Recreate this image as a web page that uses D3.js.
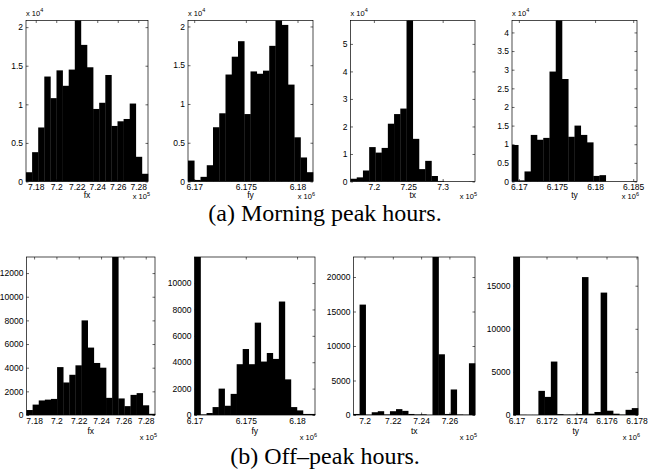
<!DOCTYPE html>
<html>
<head>
<meta charset="utf-8">
<script src="https://cdn.jsdelivr.net/npm/d3@7"></script>
<style>
body{margin:0;background:#fff}
svg text{font-family:"Liberation Sans",Arial,Helvetica,sans-serif}
</style>
</head>
<body>
<svg id="chart" width="649" height="474"></svg>
<script>
// bin counts left to right

// (a) morning peak
const morningFx = [1200, 3800, 7000, 13600, 10800, 14400, 12400, 14500, 20860, 17700,
                   14800, 9400, 10200, 13800, 7200, 7800, 8100, 10100, 3200, 1000];
const morningFy = [2700, 200, 600, 2100, 7000, 8800, 13800, 16100, 18100, 8700,
                   14200, 13900, 14300, 17500, 20770, 20200, 12500, 5700, 3100, 1200];
const morningTx = [1000, 1500, 4000, 12500, 10500, 12200, 21000, 24500, 26500, 58500,
                   15500, 4500, 7500, 2000, 200, 0, 0, 0, 0, 50];
const morningTy = [9800, 300, 2700, 12500, 11200, 11700, 29500, 43200, 27500, 12000,
                   15000, 12500, 10500, 1500, 1700, 0, 0, 0, 0, 50];

// (b) off-peak
const offFx = [420, 880, 1230, 1300, 1360, 4050, 2750, 3400, 4200, 8000, 5700,
               4400, 4000, 1450, 13360, 1400, 750, 1700, 1850, 820, 100];
const offFy = [11975, 40, 150, 600, 2000, 700, 1600, 3850, 5000, 3850,
               7000, 4050, 4700, 4250, 8600, 2700, 600, 350, 80, 80];
const offTx = [150, 16000, 50, 400, 550, 80, 550, 850, 600, 150,
               80, 100, 30, 22900, 8800, 150, 3700, 80, 50, 7500];
const offTy = [18330, 30, 20, 20, 2800, 2100, 6200, 100, 50, 50,
               100, 16000, 150, 350, 14200, 500, 150, 50, 600, 800];

// x extent of each histogram (axis units, times the exponent)
const morningFxRange = [7.1705, 7.2895];
const morningFyRange = [6.1694, 6.1815];
const morningTxRange = [7.166, 7.347];
const morningTyRange = [6.1691, 6.1855];
const offFxRange = [7.1732, 7.2883];
const offFyRange = [6.1700, 6.18175];
const offTxRange = [7.1922, 7.2781];
const offTyRange = [6.1698, 6.1781];

// tick labels
const fxTicks = [7.18, 7.2, 7.22, 7.24, 7.26, 7.28];
const fyTicks = [6.17, 6.175, 6.18];
const txTicksA = [7.2, 7.25, 7.3];
const tyTicksA = [6.17, 6.175, 6.18, 6.185];
const txTicksB = [7.2, 7.22, 7.24, 7.26];
const tyTicksB = [6.17, 6.172, 6.174, 6.176, 6.178];

const yTicksHalf = [0, 0.5, 1, 1.5, 2];          // x 10^4
const yTicksFive = [0, 1, 2, 3, 4, 5];           // x 10^4
const yTicksFour = [0, 0.5, 1, 1.5, 2, 2.5, 3, 3.5, 4];  // x 10^4
const yTicksOffFx = [0, 2000, 4000, 6000, 8000, 10000, 12000];
const yTicksOffFy = [0, 2000, 4000, 6000, 8000, 10000];
const yTicksOffTx = [0, 5000, 10000, 15000, 20000];
const yTicksOffTy = [0, 5000, 10000, 15000];

const captions = ["(a) Morning peak hours.", "(b) Off\u2013peak hours."];

const svg = d3.select("#chart");

const panels = [
  {counts: morningFx, range: morningFxRange, xt: fxTicks, yt: yTicksHalf, ye: 4, lab: "fx", xe: 5, box: [26, 20.5, 148, 181.5]},
  {counts: morningFy, range: morningFyRange, xt: fyTicks, yt: yTicksHalf, ye: 4, lab: "fy", xe: 6, box: [188, 20.5, 313, 181.5]},
  {counts: morningTx, range: morningTxRange, xt: txTicksA, yt: yTicksFive, ye: 4, lab: "tx", xe: 5, box: [350.5, 20.5, 475, 181.5]},
  {counts: morningTy, range: morningTyRange, xt: tyTicksA, yt: yTicksFour, ye: 4, lab: "ty", xe: 6, box: [512, 20.5, 637, 181.5]},
  {counts: offFx, range: offFxRange, xt: fxTicks, yt: yTicksOffFx, ye: 0, lab: "fx", xe: 5, box: [26.5, 257, 155, 415]},
  {counts: offFy, range: offFyRange, xt: fyTicks, yt: yTicksOffFy, ye: 0, lab: "fy", xe: 6, box: [194.5, 257, 315, 415]},
  {counts: offTx, range: offTxRange, xt: txTicksB, yt: yTicksOffTx, ye: 0, lab: "tx", xe: 5, box: [353.5, 257, 475, 415]},
  {counts: offTy, range: offTyRange, xt: tyTicksB, yt: yTicksOffTy, ye: 0, lab: "ty", xe: 6, box: [513.5, 257, 638, 415]}
];

function expLabel(sel, x, y, anchor, e){
  const t = sel.append("text").attr("x", x).attr("y", y)
    .attr("text-anchor", anchor).attr("font-size", 7.5).attr("fill", "#000");
  t.append("tspan").text("x 10");
  t.append("tspan").attr("dy", -3.5).attr("font-size", 5.5).text(e);
}

function drawPanel(p, row){
  const w = p.box[2] - p.box[0], h = p.box[3] - p.box[1];
  const g = svg.append("g").attr("transform", "translate(" + p.box[0] + "," + p.box[1] + ")");

  const x = d3.scaleLinear().domain(p.range).range([0, w]);
  const y = d3.scaleLinear().domain([0, d3.max(p.counts)]).range([h, 0]);
  const step = (p.range[1] - p.range[0]) / p.counts.length;
  const mult = p.ye ? Math.pow(10, p.ye) : 1;

  g.selectAll("rect.bar")
    .data(p.counts)
    .join("rect")
    .attr("class", "bar")
    .attr("x", (d, i) => x(p.range[0] + i * step))
    .attr("width", (d, i) => x(p.range[0] + (i + 1) * step) - x(p.range[0] + i * step) + 0.3)
    .attr("y", d => y(d))
    .attr("height", d => h - y(d))
    .attr("fill", "#000");

  const tick = -2.5;
  const style = a => {
    a.select(".domain").remove();
    a.attr("font-size", 8.5).attr("font-family", null);
    a.selectAll("line").attr("stroke", "#000").attr("stroke-width", 0.6);
    a.selectAll("text").attr("fill", "#000");
  };

  g.append("g").attr("transform", "translate(0," + h + ")")
    .call(d3.axisBottom(x).tickValues(p.xt).tickSize(tick).tickPadding(row === 0 ? 2 : 3).tickFormat(d => d))
    .call(style);
  g.append("g")
    .call(d3.axisTop(x).tickValues(p.xt).tickSize(tick).tickFormat(""))
    .call(style);
  g.append("g")
    .call(d3.axisLeft(y).tickValues(p.yt.map(v => v * mult)).tickSize(tick).tickPadding(3).tickFormat(d => +(d / mult).toFixed(3)))
    .call(style);
  g.append("g").attr("transform", "translate(" + w + ",0)")
    .call(d3.axisRight(y).tickValues(p.yt.map(v => v * mult)).tickSize(tick).tickFormat(""))
    .call(style);

  g.append("rect").attr("width", w).attr("height", h)
    .attr("fill", "none").attr("stroke", "#000").attr("stroke-width", 0.7);

  if (p.ye) expLabel(g, 0, -5, "start", p.ye);

  const labY = row === 0 ? h + 16.5 : h + 19;
  g.append("text").attr("x", w / 2).attr("y", labY)
    .attr("text-anchor", "middle").attr("font-size", 8.5).attr("fill", "#000").text(p.lab);
  expLabel(g, w + 2, row === 0 ? h + 17.5 : h + 25, "end", p.xe);
}

panels.forEach((p, i) => drawPanel(p, i < 4 ? 0 : 1));

svg.selectAll("text.caption")
  .data(captions)
  .join("text")
  .attr("class", "caption")
  .attr("x", 325)
  .attr("y", (d, i) => i === 0 ? 221 : 464)
  .attr("text-anchor", "middle")
  .attr("font-size", 24)
  .style("font-family", '"Liberation Serif","Times New Roman",serif')
  .attr("fill", "#000")
  .text(d => d);
</script>
</body>
</html>
